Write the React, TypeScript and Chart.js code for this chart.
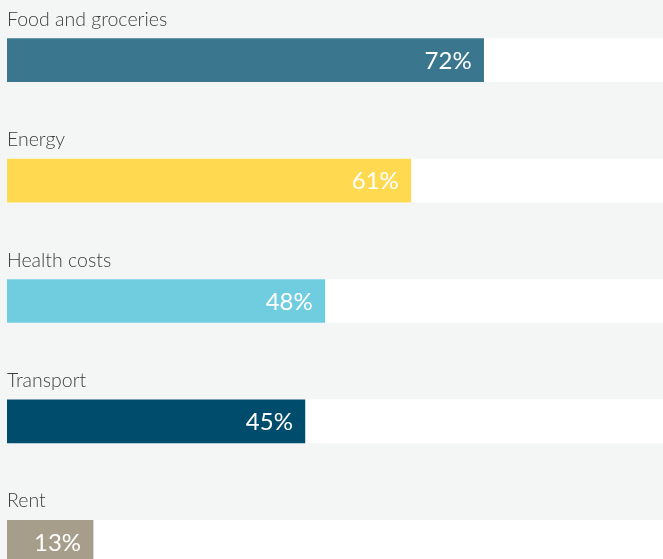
import React, { useEffect, useRef } from "react";
import { Chart, registerables } from "chart.js";

Chart.register(...registerables);

const categories = ["Food and groceries", "Energy", "Health costs", "Transport", "Rent"];
const values = [72, 61, 48, 45, 13];
const trackValues = [100, 100, 100, 100, 100];
const barColors = ["#3a778f", "#ffd94f", "#70cde0", "#004c6d", "#a69d8a"];

const labelPlugin = {
  id: "labelPlugin",
  afterDatasetsDraw(chart: any) {
    const ctx = chart.ctx;
    const meta = chart.getDatasetMeta(0);
    ctx.save();
    meta.data.forEach((bar: any, i: number) => {
      const half = bar.height / 2;
      ctx.fillStyle = "#3d3d3d";
      ctx.font = "300 19.5px Lato";
      ctx.textAlign = "left";
      ctx.textBaseline = "alphabetic";
      ctx.fillText(categories[i], chart.chartArea.left, bar.y - half - 13);
      ctx.fillStyle = "#ffffff";
      ctx.font = "400 24px Lato";
      ctx.textAlign = "right";
      ctx.textBaseline = "middle";
      ctx.fillText(values[i] + "%", bar.x - 12, bar.y + 1);
    });
    ctx.restore();
  },
};

export default function App() {
  const ref = useRef<HTMLCanvasElement>(null);
  useEffect(() => {
    if (!ref.current) return;
    const chart = new Chart(ref.current, {
      type: "bar",
      data: {
        labels: categories,
        datasets: [
          {
            data: values,
            backgroundColor: barColors,
            grouped: false,
            barThickness: 43,
            borderWidth: 0,
          } as any,
          {
            data: trackValues,
            backgroundColor: "#ffffff",
            grouped: false,
            barThickness: 43,
            borderWidth: 0,
          } as any,
        ],
      },
      options: {
        indexAxis: "y",
        animation: false,
        responsive: false,
        layout: { padding: { left: 7, right: 1, top: 0, bottom: 0 } },
        plugins: { legend: { display: false }, tooltip: { enabled: false } },
        scales: {
          x: { min: 0, max: 100, display: false },
          y: { display: false },
        },
      },
      plugins: [labelPlugin],
    });
    return () => chart.destroy();
  }, []);
  return (
    <div
      style={{
        position: "fixed",
        left: 0,
        top: 0,
        width: 663,
        height: 559,
        overflow: "hidden",
        background: "#f4f6f5",
      }}
    >
      <canvas ref={ref} width={670} height={602} style={{ width: 670, height: 602, display: "block" }} />
    </div>
  );
}
